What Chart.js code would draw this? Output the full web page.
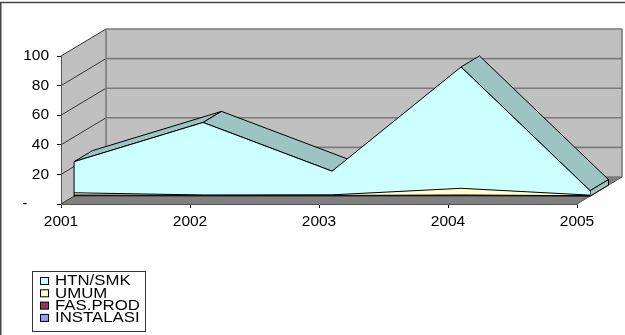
<!DOCTYPE html>
<html><head><meta charset="utf-8">
<script src="https://cdn.jsdelivr.net/npm/chart.js@4.4.1/dist/chart.umd.min.js"></script>
<style>html,body{margin:0;padding:0;background:#fff;overflow:hidden}canvas{display:block}</style>
</head><body>
<canvas id="c" width="625" height="335"></canvas>
<script>
// ---- data ----
const years = ['2001', '2002', '2003', '2004', '2005'];
const seriesNames = ['HTN/SMK', 'UMUM', 'FAS.PROD', 'INSTALASI'];
const htnSmk    = [21, 49, 16, 82, 3];
const umum      = [1.5, 0.3, 0.4, 4.5, 0.4];
const fasProd   = [0.5, 0.3, 0.3, 0.5, 0.2];
const instalasi = [0.3, 0.2, 0.2, 0.3, 0.1];
const yTicks = [0, 20, 40, 60, 80, 100];
const seriesColors = ['#CCFFFF', '#FFFFCC', '#993366', '#9999FF'];

// ---- style constants ----
const DEPTH = {x: 45, y: -27};
const FRONT = 0.29, THICK = 0.41;
const TOP_FACE = '#9cc4c3';
const FONT = '"Liberation Sans", Arial, sans-serif';

function poly(ctx, pts) {
  ctx.beginPath();
  ctx.moveTo(pts[0][0], pts[0][1]);
  for (let i = 1; i < pts.length; i++) ctx.lineTo(pts[i][0], pts[i][1]);
  ctx.closePath();
}
function seg(ctx, x1, y1, x2, y2) {
  ctx.beginPath(); ctx.moveTo(x1, y1); ctx.lineTo(x2, y2); ctx.stroke();
}

const threeD = {
  id: 'threeD',
  beforeDraw(chart) {
    const {ctx, chartArea: a, scales: {y}} = chart;
    const dx = DEPTH.x, dy = DEPTH.y;
    ctx.save();
    ctx.fillStyle = '#FFFFFF';
    ctx.fillRect(0, 0, chart.width, chart.height);
    // outer frame
    ctx.strokeStyle = '#444'; ctx.lineWidth = 1.5;
    seg(ctx, 0, 2.5, chart.width, 2.5);
    seg(ctx, 0.75, 2.5, 0.75, chart.height);
    // side wall
    ctx.fillStyle = '#C0C0C0';
    poly(ctx, [[a.left, a.top], [a.left + dx, a.top + dy], [a.left + dx, a.bottom + dy], [a.left, a.bottom]]);
    ctx.fill();
    // back wall
    poly(ctx, [[a.left + dx, a.top + dy], [a.right + dx, a.top + dy], [a.right + dx, a.bottom + dy], [a.left + dx, a.bottom + dy]]);
    ctx.fill();
    // floor
    ctx.fillStyle = '#808080';
    poly(ctx, [[a.left, a.bottom], [a.right, a.bottom], [a.right + dx, a.bottom + dy], [a.left + dx, a.bottom + dy]]);
    ctx.fill();
    // gridlines
    y.ticks.forEach(t => {
      const py = y.getPixelForValue(t.value);
      ctx.strokeStyle = '#7a7a7a'; ctx.lineWidth = 1.6;
      seg(ctx, a.left + dx, py + dy, a.right + dx, py + dy);
      ctx.strokeStyle = '#333'; ctx.lineWidth = 1;
      seg(ctx, a.left, py, a.left + dx, py + dy);
    });
    // wall edges
    ctx.strokeStyle = '#7a7a7a'; ctx.lineWidth = 1.6;
    seg(ctx, a.left + dx, a.top + dy, a.left + dx, a.bottom + dy);
    seg(ctx, a.right + dx, a.top + dy, a.right + dx, a.bottom + dy);
    ctx.strokeStyle = '#555'; ctx.lineWidth = 1;
    seg(ctx, a.right, a.bottom, a.right + dx, a.bottom + dy);
    ctx.restore();
  },
  beforeDatasetsDraw(chart) {
    const {ctx, scales: {y}} = chart;
    const n = chart.data.datasets.length;
    const top = chart.getDatasetMeta(n - 1).data;
    const fx = DEPTH.x * FRONT, fy = DEPTH.y * FRONT;
    const tx = DEPTH.x * THICK, ty = DEPTH.y * THICK;
    ctx.save();
    ctx.fillStyle = TOP_FACE; ctx.strokeStyle = '#000'; ctx.lineWidth = 1; ctx.lineJoin = 'round';
    for (let i = 0; i < top.length - 1; i++) {
      const x1 = top[i].x + fx, y1 = top[i].y + fy;
      const x2 = top[i + 1].x + fx, y2 = top[i + 1].y + fy;
      const s = (y2 - y1) / (x2 - x1);
      if (ty < s * tx) {
        poly(ctx, [[x1, y1], [x2, y2], [x2 + tx, y2 + ty], [x1 + tx, y1 + ty]]);
        ctx.fill(); ctx.stroke();
      }
    }
    const last = top[top.length - 1];
    const base = y.getPixelForValue(0) + fy;
    const lx = last.x + fx, ly = last.y + fy;
    poly(ctx, [[lx, ly], [lx, base], [lx + tx, base + ty], [lx + tx, ly + ty]]);
    ctx.fill(); ctx.stroke();
    ctx.restore();
    ctx.save();
    ctx.translate(fx, fy);
  },
  afterDatasetsDraw(chart) {
    const {ctx, scales: {y}} = chart;
    const n = chart.data.datasets.length;
    const first = chart.getDatasetMeta(n - 1).data[0];
    const base = y.getPixelForValue(0);
    ctx.strokeStyle = '#000'; ctx.lineWidth = 1;
    seg(ctx, first.x, first.y, first.x, base);
    ctx.restore();
  },
  afterDraw(chart) {
    const ctx = chart.ctx;
    ctx.save();
    ctx.strokeStyle = '#333'; ctx.lineWidth = 1;
    ctx.strokeRect(32.5, 271.5, 113, 60);
    const ds = chart.data.datasets.slice().reverse();
    ds.forEach((d, i) => {
      const cy = 281 + i * 12.3;
      ctx.fillStyle = d.backgroundColor;
      ctx.fillRect(40.5, cy - 3.5, 8, 7);
      ctx.strokeStyle = '#000';
      ctx.strokeRect(40.5, cy - 3.5, 8, 7);
      ctx.save();
      ctx.translate(55, cy + 0.5);
      ctx.scale(1.2, 1);
      ctx.fillStyle = '#000';
      ctx.font = '14px ' + FONT;
      ctx.textBaseline = 'middle';
      ctx.fillText(d.label, 0, 0);
      ctx.restore();
    });
    ctx.restore();
  }
};

const stackData = [instalasi, fasProd, umum, htnSmk];
const stackNames = seriesNames.slice().reverse();
const stackColors = seriesColors.slice().reverse();

new Chart(document.getElementById('c'), {
  type: 'line',
  data: {
    labels: years,
    datasets: stackData.map((arr, i) => ({
      label: stackNames[i],
      data: arr,
      backgroundColor: stackColors[i],
      borderColor: '#000',
      borderWidth: 1,
      pointRadius: 0,
      tension: 0,
      fill: i === 0 ? 'origin' : '-1',
      clip: false
    }))
  },
  options: {
    responsive: false,
    devicePixelRatio: 1,
    animation: false,
    layout: {padding: {left: 0, top: 56, right: 48, bottom: 0}},
    plugins: {legend: {display: false}, tooltip: {enabled: false}},
    scales: {
      x: {
        type: 'category',
        offset: false,
        grid: {display: true, drawOnChartArea: false, drawTicks: true, tickLength: 4, color: '#000'},
        border: {display: true, color: '#555'},
        ticks: {color: '#000', font: {family: FONT, size: 15.5}, padding: 4, maxRotation: 0, autoSkip: false},
        afterFit(s) { s.height = 131; }
      },
      y: {
        stacked: true,
        min: 0, max: 100,
        afterBuildTicks(s) { s.ticks = yTicks.map(v => ({value: v})); },
        grid: {display: true, drawOnChartArea: false, drawTicks: true, tickLength: 4, color: '#000'},
        border: {display: true, color: '#555'},
        ticks: {color: '#000', font: {family: FONT, size: 15.5}, padding: 8,
          callback: v => v === 0 ? '-     ' : String(v)},
        afterFit(s) { s.width = 61; }
      }
    }
  },
  plugins: [threeD]
});
</script>
</body></html>
